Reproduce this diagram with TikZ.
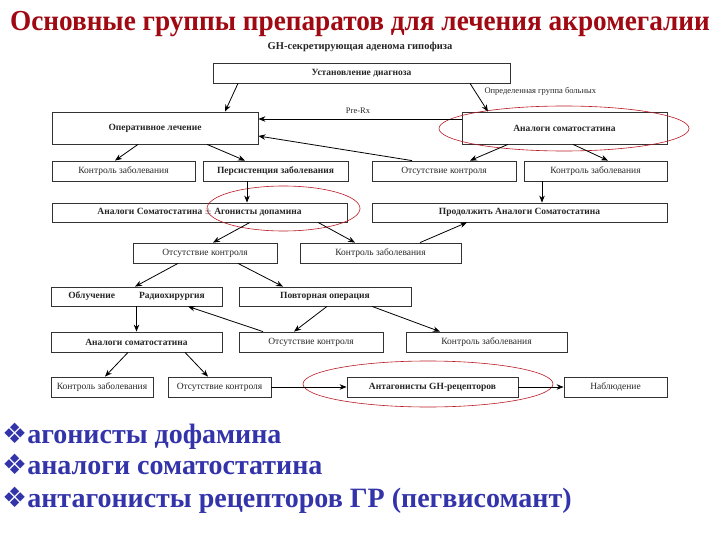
\documentclass[tikz,border=0pt]{standalone}
\usepackage{fontspec}
\setmainfont{Liberation Serif}
\newfontfamily\symfont{DejaVu Sans}
\usetikzlibrary{shapes.geometric, arrows.meta}
\definecolor{titlered}{RGB}{160,8,18}
\definecolor{bulletblue}{RGB}{51,51,170}
\definecolor{ringred}{RGB}{185,25,35}
\tikzstyle{stepbox} = [rectangle,
					  draw=black!80,
					  line width=0.8pt,
					  minimum height=20pt,
					  inner sep=0pt,
					  text centered,
					  text=black!85,
					  font=\fontsize{9.5}{11}\selectfont,
					 ]
\tikzstyle{keybox} = [stepbox,
					  font=\fontsize{9.5}{11}\selectfont\bfseries,
					 ]
\tikzstyle{ring} = [ellipse,
					inner sep=0pt,
					draw=ringred,
					line width=0.6pt,
				   ]
\tikzstyle{bullet} = [anchor=base west,
					  inner sep=0pt,
					  text=bulletblue,
					  font=\fontsize{28}{32}\selectfont\bfseries,
					 ]
\tikzstyle{arrow} = [thick,->,>={Stealth[length=7pt,width=5.5pt]}]
\newcommand{\diam}{{\symfont\fontsize{28}{30}\selectfont ❖}}

\begin{document}
\begin{tikzpicture}[x=1pt, y=-1pt]
\useasboundingbox (0,0) rectangle (720,540);

\node (title) [anchor=base, inner sep=0pt, text=titlered, font=\fontsize{29}{33}\selectfont\bfseries] at (360,31) {\scalebox{0.94}[1]{Основные группы препаратов для лечения акромегалии}};
\node (adenoma) [font=\fontsize{10.5}{12}\selectfont\bfseries, text=black!85] at (360,47) {GH-секретирующая аденома гипофиза};

\node (diag) [keybox, minimum width=297pt] at (361.5,73) {Установление диагноза};
\node (oper) [keybox, minimum width=206pt, minimum height=32pt] at (155,128) {Оперативное лечение};
\node (ssa) [keybox, minimum width=205pt, minimum height=32pt] at (564.5,128) {Аналоги соматостатина};
\node (group) [anchor=west, font=\fontsize{8.5}{10}\selectfont, text=black!85] at (481,91) {Определенная группа больных};
\node (prerx) [font=\fontsize{8.5}{10}\selectfont, text=black!85] at (358,111) {Pre-Rx};

\node (ctrlA) [stepbox, minimum width=143pt] at (123.5,171) {Контроль заболевания};
\node (pers) [keybox, minimum width=145pt] at (275.5,171) {Персистенция заболевания};
\node (noctrlB) [stepbox, minimum width=144pt] at (444,171) {Отсутствие контроля};
\node (ctrlB) [stepbox, minimum width=143pt] at (595.5,171) {Контроль заболевания};

\node (combo) [keybox, minimum width=295pt, minimum height=19pt] at (199.5,212.5) {Аналоги Соматостатина $\pm$ Агонисты допамина};
\node (cont) [keybox, minimum width=295pt, minimum height=19pt] at (519.5,212.5) {Продолжить Аналоги Соматостатина};

\node (noctrlC) [stepbox, minimum width=144pt] at (205,253) {Отсутствие контроля};
\node (ctrlC) [stepbox, minimum width=161pt] at (380.5,253) {Контроль заболевания};

\node (rad) [keybox, minimum width=171pt, minimum height=19pt] at (136.5,296.5) {Облучение\hspace{24pt}Радиохирургия};
\node (reop) [keybox, minimum width=172pt, minimum height=19pt] at (325,296.5) {Повторная операция};

\node (ssaD) [keybox, minimum width=171pt] at (136.5,342) {Аналоги соматостатина};
\node (noctrlD) [stepbox, minimum width=144pt] at (311,342) {Отсутствие контроля};
\node (ctrlD) [stepbox, minimum width=161pt] at (486.5,342) {Контроль заболевания};

\node (ctrlE) [stepbox, minimum width=102pt] at (102,387) {Контроль заболевания};
\node (noctrlE) [stepbox, minimum width=103pt] at (219.5,387) {Отсутствие контроля};
\node (antag) [keybox, minimum width=171pt] at (432.5,387) {Антагонисты GH-рецепторов};
\node (obs) [stepbox, minimum width=103pt] at (615.5,387) {Наблюдение};

% red marks
\node (ringSSA) [ring, minimum width=250pt, minimum height=45pt] at (564,128.5) {};
\node (ringDA) [ring, minimum width=153pt, minimum height=45pt] at (283.5,208.5) {};
\node (ringGH) [ring, minimum width=250pt, minimum height=46pt] at (428,384) {};

\draw [arrow] ([xshift=-123.5pt]diag.south) -- ([xshift=70pt]oper.north);
\draw [arrow] ([xshift=108.5pt]diag.south) -- ([xshift=-76.5pt]ssa.north);
\draw [arrow] ([yshift=9pt]ssa.west) -- ([yshift=9pt]oper.east);
\draw [arrow] ([xshift=-32pt]noctrlB.north) -- ([yshift=-8pt]oper.east);
\draw [arrow] ([xshift=-17pt]oper.south) -- ([xshift=-8.5pt]ctrlA.north);
\draw [arrow] ([xshift=52pt]oper.south) -- ([xshift=-30.5pt]pers.north);
\draw [arrow] ([xshift=-56.5pt]ssa.south) -- ([xshift=26pt]noctrlB.north);
\draw [arrow] ([xshift=8.5pt]ssa.south) -- ([xshift=12.5pt]ctrlB.north);
\draw [arrow] ([xshift=-28.5pt]pers.south) -- ([xshift=47.5pt]combo.north);
\draw [arrow] ([xshift=-53.5pt]ctrlB.south) -- ([xshift=22.5pt]cont.north);
\draw [arrow] ([xshift=50.5pt]combo.south) -- ([xshift=8pt]noctrlC.north);
\draw [arrow] ([xshift=118.5pt]combo.south) -- ([xshift=-25.5pt]ctrlC.north);
\draw [arrow] ([xshift=39.5pt]ctrlC.north) -- ([xshift=-52.5pt]cont.south);
\draw [arrow] ([xshift=-27pt]noctrlC.south) -- ([xshift=-1.5pt]rad.north);
\draw [arrow] ([xshift=33pt]noctrlC.south) -- ([xshift=-42pt]reop.north);
\draw [arrow] (rad.south) -- (ssaD.north);
\draw [arrow] ([xshift=-48pt]noctrlD.north) -- ([xshift=51.5pt]rad.south);
\draw [arrow] ([xshift=2pt]reop.south) -- ([xshift=-17pt]noctrlD.north);
\draw [arrow] ([xshift=47pt]reop.south) -- ([xshift=-46.5pt]ctrlD.north);
\draw [arrow] ([xshift=-8.5pt]ssaD.south) -- ([xshift=3pt]ctrlE.north);
\draw [arrow] ([xshift=48.5pt]ssaD.south) -- ([xshift=-11.5pt]noctrlE.north);
\draw [arrow] (noctrlE.east) -- (antag.west);
\draw [arrow] (antag.east) -- (obs.west);

\node (itemDA) [bullet] at (2,443) {\diam агонисты дофамина};
\node (itemSSA) [bullet] at (2,474) {\diam аналоги соматостатина};
\node (itemGH) [bullet] at (2,507) {\diam антагонисты рецепторов ГР (пегвисомант)};

\end{tikzpicture}
\end{document}
